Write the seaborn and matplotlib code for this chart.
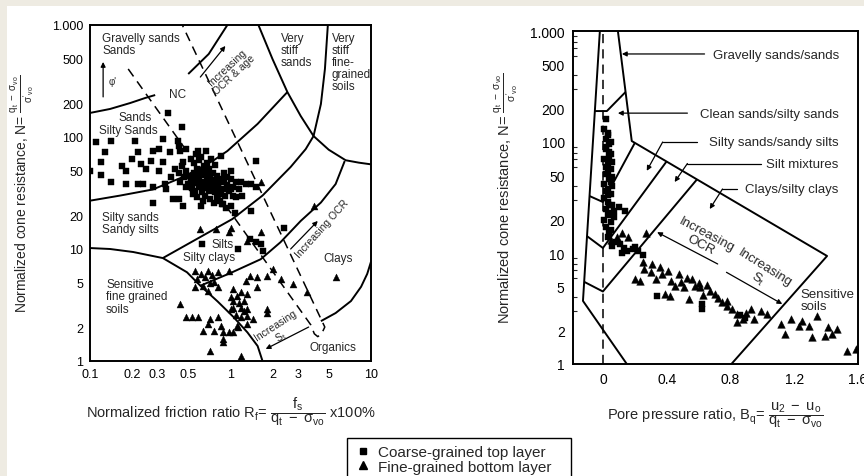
import matplotlib
matplotlib.use("Agg")
import matplotlib.pyplot as plt
from matplotlib.lines import Line2D
from matplotlib.patches import Rectangle
import pandas as pd
import seaborn as sns

# ---------------- data ----------------
# Left chart: (Rf %, N)
left_coarse = [
    (0.36, 165), (0.45, 122), (0.11, 90), (0.14, 92), (0.21, 92), (0.33, 96), (0.42, 92), (0.43, 83),
    (0.128, 73), (0.22, 73), (0.28, 75), (0.31, 78), (0.37, 73), (0.44, 75), (0.48, 78), (0.59, 75),
    (0.67, 75), (0.86, 68), (1.53, 61), (0.12, 60), (0.20, 64), (0.27, 61), (0.17, 55), (0.23, 57),
    (0.33, 60), (0.18, 50), (0.25, 52), (0.31, 50), (0.12, 46), (0.14, 40), (0.18, 38), (0.22, 38),
    (0.24, 38), (0.28, 36), (0.34, 38), (0.35, 34), (0.28, 26), (1.0, 50), (1.18, 40), (1.28, 38),
    (1.41, 38), (1.51, 36), (1.0, 34), (1.1, 29), (0.89, 25), (1.01, 24), (1.08, 21), (1.41, 22),
    (0.62, 24), (0.46, 24), (0.43, 28), (0.1, 50), (2.4, 15.4), (1.05, 30), (1.14, 10), (1.51, 11.5),
    (1.64, 11), (1.38, 12.3), (1.69, 9.6), (0.39, 28), (0.63, 11),
    (0.45, 55), (0.48, 50), (0.50, 45), (0.52, 42), (0.55, 48), (0.58, 52), (0.60, 44), (0.62, 40),
    (0.65, 47), (0.68, 43), (0.70, 38), (0.72, 35), (0.50, 38), (0.53, 35), (0.56, 33), (0.60, 36),
    (0.63, 32), (0.66, 30), (0.70, 33), (0.75, 36), (0.78, 32), (0.80, 29), (0.85, 31), (0.88, 34),
    (0.92, 30), (0.55, 58), (0.60, 62), (0.65, 55), (0.70, 52), (0.75, 48), (0.80, 45), (0.85, 42),
    (0.90, 40), (0.95, 37), (0.47, 44), (0.52, 40), (0.57, 39), (0.62, 46), (0.67, 51), (0.72, 45),
    (0.77, 41), (0.82, 38), (0.58, 29), (0.64, 27), (0.72, 28), (0.76, 26), (0.84, 27), (0.98, 33),
    (1.05, 36), (1.0, 42), (0.43, 48), (0.40, 52), (0.38, 44), (0.44, 40), (0.48, 36), (0.54, 31),
    (0.68, 58), (0.62, 66), (0.57, 70), (0.73, 63), (0.78, 56), (0.52, 64), (0.46, 60), (0.90, 48),
    (0.95, 44), (1.1, 40), (1.15, 34), (1.2, 30), (0.87, 25), (0.93, 23), (0.66, 35), (0.74, 40),
    (0.59, 41), (0.55, 43), (0.61, 50), (0.69, 47), (0.64, 38), (0.71, 42), (0.79, 36), (0.83, 34),
]
left_fine = [
    (0.61, 15.1), (0.97, 14.1), (1.64, 14.1), (1.32, 11.8), (0.56, 6.4), (0.69, 6.4), (0.81, 6.2),
    (0.97, 6.4), (0.58, 5.4), (0.76, 5.1), (0.64, 4.7), (0.56, 4.6), (0.81, 4.6), (0.69, 4.2),
    (1.28, 5.2), (1.38, 5.7), (1.55, 5.6), (1.83, 5.7), (2.0, 6.6), (2.27, 5.4), (2.8, 4.9),
    (1.55, 4.6), (1.05, 4.4), (1.18, 4.1), (1.0, 3.7), (1.12, 3.8), (1.32, 4.0), (1.05, 3.4),
    (1.24, 3.4), (1.18, 3.0), (1.0, 2.9), (1.32, 2.9), (1.83, 2.9), (1.83, 2.7), (1.32, 2.5),
    (1.18, 2.45), (1.45, 2.37), (1.32, 2.14), (0.44, 3.2), (0.53, 2.47), (0.59, 2.47), (0.72, 2.37),
    (0.82, 2.47), (0.69, 2.14), (0.85, 2.05), (0.64, 1.85), (0.76, 1.85), (0.88, 1.8), (0.97, 1.8),
    (1.05, 1.8), (1.14, 2.0), (0.88, 1.57), (0.88, 1.48), (0.72, 1.23), (1.18, 1.1), (1.12, 2.05),
    (5.6, 5.6), (3.5, 4.1), (0.79, 15), (1.0, 15.4), (1.64, 40), (3.9, 24), (0.48, 2.45),
    (0.62, 6.0), (0.66, 5.6), (0.74, 5.9), (0.71, 5.0), (1.05, 3.0), (1.1, 2.6), (1.15, 3.3), (1.25, 2.8),
]
# Right chart: (Bq, N)
right_coarse = [
    (0.02, 161), (0.01, 131), (0.03, 120), (0.02, 106), (0.04, 95), (0.02, 86), (0.05, 78), (0.01, 70),
    (0.03, 64), (0.05, 57), (0.02, 52), (0.04, 46), (0.01, 42), (0.06, 40), (0.03, 38), (0.05, 34),
    (0.01, 31), (0.03, 29), (0.06, 27), (0.02, 25), (0.04, 23), (0.01, 20), (0.05, 19), (0.10, 26),
    (0.14, 24), (0.05, 16), (0.03, 14), (0.11, 12), (0.13, 11), (0.20, 11.3), (0.22, 10.5), (0.25, 9.5),
    (0.19, 10.8), (0.34, 4.1), (0.62, 3.1), (0.62, 3.5), (0.89, 2.6), (0.86, 2.75), (0.04, 15),
    (0.07, 21), (0.03, 33), (0.06, 48), (0.02, 60), (0.04, 72), (0.03, 115), (0.05, 100), (0.02, 90),
    (0.04, 82), (0.06, 66), (0.03, 55), (0.05, 44), (0.02, 36), (0.04, 27), (0.07, 24), (0.03, 22),
    (0.02, 17), (0.08, 12.5), (0.06, 11.5), (0.15, 10.5), (0.12, 10),
]
right_fine = [
    (0.25, 8.3), (0.26, 7.2), (0.20, 5.8), (0.23, 5.6), (0.36, 7.5), (0.37, 6.5), (0.33, 5.8),
    (0.41, 6.9), (0.43, 5.6), (0.48, 6.5), (0.49, 5.5), (0.51, 4.9), (0.42, 4.1), (0.56, 5.8),
    (0.58, 5.0), (0.61, 4.9), (0.54, 3.85), (0.67, 4.5), (0.70, 4.3), (0.78, 3.7), (0.78, 3.3),
    (0.81, 3.1), (0.84, 2.8), (0.84, 2.4), (0.88, 2.55), (0.95, 2.55), (0.99, 3.0), (1.03, 2.8),
    (1.12, 2.3), (1.18, 2.55), (1.14, 1.86), (1.23, 2.2), (1.25, 2.45), (1.29, 2.2), (1.31, 1.75),
    (1.34, 2.7), (1.41, 2.15), (1.39, 1.8), (1.47, 2.07), (1.44, 1.86), (1.53, 1.3), (1.59, 1.36),
    (0.05, 13), (0.09, 14), (0.12, 15), (0.16, 14), (0.27, 15), (0.30, 6.8), (0.45, 5.0), (0.63, 4.2),
    (0.72, 3.9), (0.90, 2.9), (0.93, 3.1), (0.65, 5.2), (0.75, 3.6), (0.39, 4.3), (0.31, 8.0),
    (0.53, 6.0), (0.60, 5.4),
]
layer_names = ["Coarse-grained top layer", "Fine-grained bottom layer"]

# zone boundaries, left chart (Rf, N)
fr_gravel = [0.100, 0.139, 0.193, 0.247, 0.291]; n_gravel = [164, 178, 201, 223, 237]
fr_ocr_age = [0.50, 0.70, 0.95]; n_ocr_age = [365, 551, 1000]
fr_stiff = [1.58, 1.99, 2.54, 3.16, 3.9, 5.0, 6.6, 8.2, 10]; n_stiff = [1000, 497, 252, 154, 102, 77, 62, 59, 57]
fr_stiff_fg = [4.93, 4.7, 4.4, 3.9]; n_stiff_fg = [1000, 405, 197, 102]
fr_z56 = [0.1, 0.164, 0.28, 0.48, 0.76, 0.95, 1.56, 2.54]; n_z56 = [27, 30, 34, 45, 62, 75, 131, 252]
fr_z45 = [0.33, 0.61, 1.03, 1.69, 2.68, 3.43, 3.9]; n_z45 = [8.3, 12.8, 18.5, 30, 54, 78, 102]
fr_z34 = [0.61, 1.0, 1.64, 2.27, 3.16, 4.4, 5.6, 6.5]; n_z34 = [4.7, 6.1, 8.1, 11.5, 17.8, 26, 38, 61]
fr_z1 = [0.1, 0.139, 0.203, 0.33, 0.49, 0.61, 0.81, 1.05, 1.32, 1.56, 1.69]
n_z1 = [10.2, 10.0, 9.4, 8.3, 6.2, 4.7, 3.4, 2.47, 1.8, 1.36, 1.0]
fr_org = [4.4, 5.6, 7.2, 8.5, 9.4, 10]; n_org = [2.27, 2.68, 3.43, 4.6, 6.0, 7.7]
fr_nc = [0.187, 3.73, 3.95, 4.18, 4.45, 4.69, 0.454]; n_nc = [405, 2.1, 1.75, 1.65, 1.75, 2.01, 1000]

# zone boundaries, right chart (Bq, N)
bq_outer = [-0.019, -0.125, 0.15]; n_outer = [1000, 3.7, 1]
bq_upper = [0.094, 0.181, 1.406, 0.806]; n_upper = [1000, 102, 9.4, 1]
bq_gs = [-0.05, 0.025, 0.142]; n_gs = [190, 190, 282]
bq_v2 = [-0.084, 0.0, 0.20]; n_v2 = [32.6, 28.8, 98]
bq_v3 = [-0.10, 0.0, 0.40]; n_v3 = [14.2, 11.1, 67]
bq_v4 = [-0.1175, 0.0, 0.59]; n_v4 = [5.5, 4.5, 46]

left_xticks = [0.1, 0.2, 0.3, 0.5, 1, 2, 3, 5, 10]
left_xlabels = ["0.1", "0.2", "0.3", "0.5", "1", "2", "3", "5", "10"]
yticks = [1, 2, 5, 10, 20, 50, 100, 200, 500, 1000]
ylabels = ["1", "2", "5", "10", "20", "50", "100", "200", "500", "1.000"]
right_xticks = [0, 0.4, 0.8, 1.2, 1.6]
right_xlabels = ["0", "0.4", "0.8", "1.2", "1.6"]

# ---------------- style ----------------
sns.set_style("white")
plt.rcParams["font.family"] = ["Liberation Sans", "DejaVu Sans"]
plt.rcParams["mathtext.fontset"] = "custom"
plt.rcParams["mathtext.rm"] = "Liberation Sans"
plt.rcParams["mathtext.it"] = "Liberation Sans:italic"
plt.rcParams["mathtext.bf"] = "Liberation Sans:bold"

W, H = 864, 477
fig = plt.figure(figsize=(W / 100, H / 100), dpi=100)
fig.patch.set_facecolor("#eeebe2")
fig.patches.append(Rectangle((7 / W, 0), 1, 1 - 7 / H, transform=fig.transFigure,
                             facecolor="white", edgecolor="none", zorder=-10))

axL = fig.add_axes([90 / W, 1 - 362 / H, 281 / W, 336 / H])
axR = fig.add_axes([573 / W, 1 - 365 / H, 285 / W, 333 / H])

LW = 1.4
K = "black"


def scatter(ax, pts, marker, size):
    df = pd.DataFrame(pts, columns=["x", "y"])
    sns.scatterplot(data=df, x="x", y="y", marker=marker, s=size, color=K,
                    edgecolor=K, linewidth=0.3, legend=False, ax=ax, zorder=3)


def line(ax, xs, ys, **kw):
    ax.plot(xs, ys, color=K, lw=kw.pop("lw", LW), solid_capstyle="butt", **kw)


def arrow(ax, start, end, style="-|>", lw=0.9):
    ax.annotate("", xy=end, xytext=start,
                arrowprops=dict(arrowstyle=style, lw=lw, color=K, mutation_scale=7,
                                shrinkA=0, shrinkB=0))


# ---------------- left chart ----------------
ax = axL
ax.set_xscale("log"); ax.set_yscale("log")
for xs, ys in [(fr_gravel, n_gravel), (fr_ocr_age, n_ocr_age), (fr_stiff, n_stiff),
               (fr_stiff_fg, n_stiff_fg), (fr_z56, n_z56), (fr_z45, n_z45), (fr_z34, n_z34),
               (fr_z1, n_z1), (fr_org, n_org)]:
    line(ax, xs, ys)
line(ax, fr_nc, n_nc, lw=1.1, linestyle=(0, (6, 4)))
scatter(ax, left_coarse, "s", 19)
scatter(ax, left_fine, "^", 25)

arrow(ax, (0.124, 228), (0.124, 468))
ax.text(0.146, 316, "φ'", fontsize=7, ha="center", va="center")
arrow(ax, (0.61, 343), (0.92, 650))
ax.text(1.0, 395, "Increasing\nOCR & age", fontsize=7.5, rotation=43, rotation_mode="anchor",
        ha="center", va="center", linespacing=1.0)
arrow(ax, (2.68, 10), (4.18, 17.8))
ax.text(4.5, 15.4, "Increasing OCR", fontsize=7.5, rotation=48, rotation_mode="anchor",
        ha="center", va="center")
arrow(ax, (3.6, 2.01), (1.78, 1.28))
ax.text(2.1, 2.1, "Increasing", fontsize=7.5, rotation=33, rotation_mode="anchor",
        ha="center", va="center")
ax.text(2.3, 1.68, "S$_\\mathrm{t}$", fontsize=7.5, rotation=33, rotation_mode="anchor",
        ha="center", va="center")

fs = 8.5
ax.text(0.122, 866, "Gravelly sands\nSands", fontsize=fs, ha="left", va="top", linespacing=1.05)
ax.text(2.27, 866, "Very\nstiff\nsands", fontsize=fs, ha="left", va="top", linespacing=1.0)
ax.text(5.26, 866, "Very\nstiff\nfine-\ngrained\nsoils", fontsize=fs, ha="left", va="top",
        linespacing=1.0)
ax.text(0.42, 242, "NC", fontsize=fs, ha="center", va="center")
ax.text(0.21, 151, "Sands", fontsize=fs, ha="center", va="center")
ax.text(0.187, 115, "Silty Sands", fontsize=fs, ha="center", va="center")
ax.text(0.122, 17.1, "Silty sands\nSandy silts", fontsize=fs, ha="left", va="center",
        linespacing=1.05)
ax.text(0.88, 11.1, "Silts", fontsize=fs, ha="center", va="center")
ax.text(0.70, 8.5, "Silty clays", fontsize=fs, ha="center", va="center")
ax.text(0.130, 3.8, "Sensitive\nfine grained\nsoils", fontsize=fs, ha="left", va="center",
        linespacing=1.05)
ax.text(5.8, 8.3, "Clays", fontsize=fs, ha="center", va="center")
ax.text(5.35, 1.33, "Organics", fontsize=fs, ha="center", va="center")

ax.set_xlim(0.1, 10); ax.set_ylim(1, 1000)
ax.minorticks_off()
ax.set_xticks(left_xticks, left_xlabels)
ax.set_yticks(yticks, ylabels)
ax.tick_params(direction="in", length=4, width=1.0, labelsize=9, pad=5, colors=K)
ax.set_xlabel("Normalized friction ratio R$_\\mathrm{f}$= "
              "$\\dfrac{\\mathrm{f_s}}{\\mathrm{q_t\\ -\\ \\sigma_{vo}}}$ x100%", fontsize=10.5,
              va="center")
ax.xaxis.set_label_coords(0.5, -0.148)
ax.set_ylabel("Normalized cone resistance, N= "
              "$\\frac{\\mathrm{q_t\\ -\\ \\sigma_{vo}}}{\\mathrm{\\sigma'_{vo}}}$", fontsize=10,
              va="center")
ax.yaxis.set_label_coords((23 - 90) / 281, 0.5)

# ---------------- right chart ----------------
ax = axR
ax.set_yscale("log")
for xs, ys in [(bq_outer, n_outer), (bq_upper, n_upper), (bq_gs, n_gs), (bq_v2, n_v2),
               (bq_v3, n_v3), (bq_v4, n_v4)]:
    line(ax, xs, ys)
ax.plot([0, 0], [1, 1000], color=K, lw=1.1, linestyle=(0, (6, 4)))
scatter(ax, right_coarse, "s", 22)
scatter(ax, right_fine, "^", 30)

fs2 = 9.5
# leader labels
arrow(ax, (0.6375, 621), (0.119, 621), style="-|>")
ax.text(1.48, 608, "Gravelly sands/sands", fontsize=fs2, ha="right", va="center")
arrow(ax, (0.53, 182), (0.094, 182), style="-|>")
ax.text(1.48, 179, "Clean sands/silty sands", fontsize=fs2, ha="right", va="center")
ax.plot([0.59, 0.375], [100, 100], color=K, lw=0.9)
arrow(ax, (0.375, 100), (0.275, 55))
ax.text(1.48, 100, "Silty sands/sandy silts", fontsize=fs2, ha="right", va="center")
ax.plot([0.99, 0.53], [64, 64], color=K, lw=0.9)
arrow(ax, (0.53, 64), (0.45, 43.6))
ax.text(1.48, 64, "Silt mixtures", fontsize=fs2, ha="right", va="center")
ax.plot([0.84, 0.75], [37.7, 37.7], color=K, lw=0.9)
arrow(ax, (0.75, 37.7), (0.67, 24.9))
ax.text(1.48, 37.7, "Clays/silty clays", fontsize=fs2, ha="right", va="center")

arrow(ax, (0.72, 7.96), (0.34, 15.4))
ax.text(0.63, 13.4, "Increasing\nOCR", fontsize=fs2, rotation=-28, rotation_mode="anchor",
        ha="center", va="center", linespacing=0.95)
arrow(ax, (0.775, 6.7), (1.125, 3.47))
ax.text(0.99, 6.6, "Increasing\nS$_\\mathrm{t}$", fontsize=fs2, rotation=-32,
        rotation_mode="anchor", ha="center", va="center", linespacing=0.95)
ax.text(1.24, 3.75, "Sensitive\nsoils", fontsize=fs2, ha="left", va="center", linespacing=1.0)

ax.set_xlim(-0.1875, 1.594); ax.set_ylim(1, 1000)
ax.set_xticks(right_xticks, right_xlabels)
ax.set_yticks(yticks, ylabels)
ax.set_yticks([3, 4, 6, 7, 8, 9, 30, 40, 60, 70, 80, 90, 300, 400, 600, 700, 800, 900],
              minor=True)
ax.yaxis.set_minor_formatter(plt.NullFormatter())
ax.tick_params(which="major", direction="in", length=5, width=1.0, labelsize=10, pad=6, colors=K)
ax.tick_params(which="minor", direction="in", length=3, width=0.8, left=True)
ax.set_xlabel("Pore pressure ratio, B$_\\mathrm{q}$= "
              "$\\dfrac{\\mathrm{u_2\\ -\\ u_o}}{\\mathrm{q_t\\ -\\ \\sigma_{vo}}}$", fontsize=10.5,
              va="center")
ax.xaxis.set_label_coords(0.5, -0.15)
ax.set_ylabel("Normalized cone resistance, N= "
              "$\\frac{\\mathrm{q_t\\ -\\ \\sigma_{vo}}}{\\mathrm{\\sigma'_{vo}}}$", fontsize=10.5,
              va="center")
ax.yaxis.set_label_coords((506 - 573) / 285, 0.5)

for a in (axL, axR):
    for sp in a.spines.values():
        sp.set_color(K); sp.set_linewidth(1.4); sp.set_visible(True)

# ---------------- legend ----------------
fig.patches.append(Rectangle((347 / W, 1 - 482 / H), 224 / W, 43 / H, transform=fig.transFigure,
                             facecolor="white", edgecolor=K, linewidth=1.0, zorder=5))
handles = [Line2D([], [], marker="s", color=K, linestyle="None", markersize=5),
           Line2D([], [], marker="^", color=K, linestyle="None", markersize=6)]
leg = fig.legend(handles, layer_names, loc="upper left", bbox_to_anchor=(355 / W, 1 - 446 / H),
                 frameon=False, fontsize=11, handlelength=1.0, handletextpad=0.5,
                 borderpad=0.0, labelspacing=0.05, borderaxespad=0)
leg.set_zorder(6)

fig.savefig("out.png", dpi=100, facecolor=fig.get_facecolor())
